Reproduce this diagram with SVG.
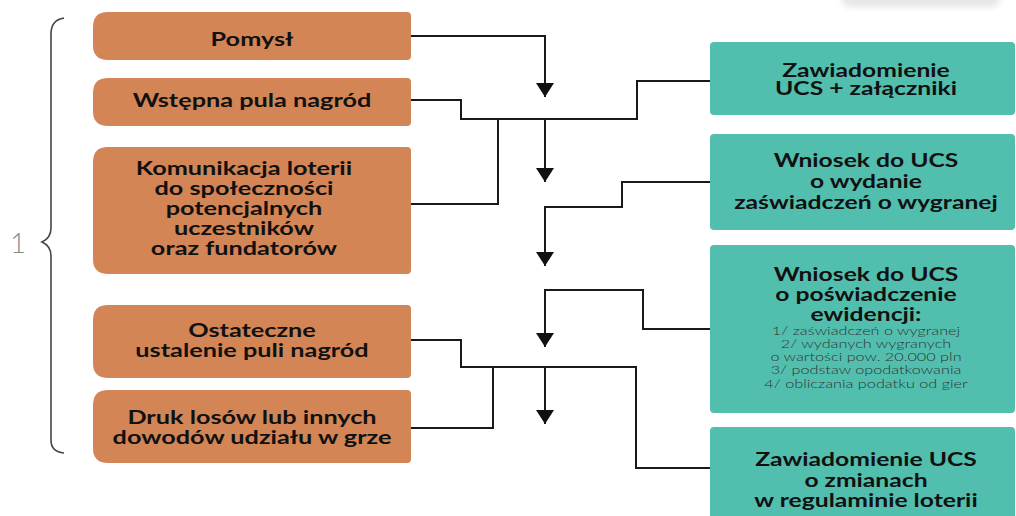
<svg xmlns="http://www.w3.org/2000/svg" width="1016" height="516" viewBox="0 0 1016 516">
<defs>
<style>
.o{fill:#D38556}
.t{fill:#52BFAE}
.h{font-family:Lato,"Open Sans","Liberation Sans",sans-serif;font-weight:700;font-size:19px;fill:#111;text-anchor:middle}
.s{font-family:Lato,"Open Sans","Liberation Sans",sans-serif;font-weight:300;font-size:12.5px;fill:#333;text-anchor:middle}
.c{fill:none;stroke:#1a1a1a;stroke-width:2}
</style>
<marker id="ar" viewBox="0 0 14 18" refX="14" refY="9" markerWidth="14" markerHeight="18" markerUnits="userSpaceOnUse" orient="auto">
<path d="M0,0 L14,9 L0,18 Z" fill="#111"/>
</marker>
<filter id="blur" x="-20%" y="-100%" width="140%" height="300%">
<feGaussianBlur stdDeviation="3"/>
</filter>
</defs>
<rect width="1016" height="516" fill="#fff"/>
<rect x="842" y="-12" width="158" height="19" rx="8" fill="#e6e6e6" filter="url(#blur)"/>
<g id="brace">
<path d="M64,18 Q51,20 51,34 L51,228 Q51,238 42,242 Q51,246 51,256 L51,440 Q51,452 64,453" fill="none" stroke="#444" stroke-width="1.6"/>
<text x="18" y="253" font-family="Lato,'Open Sans','Liberation Sans',sans-serif" font-weight="300" font-size="27" fill="#888" text-anchor="middle">1</text>
</g>
<g id="connectors">
<path class="c" d="M411,36 H545 V97" marker-end="url(#ar)"/>
<path class="c" d="M411,100 H461 V119 H637 V81 H711"/>
<path class="c" d="M498,119 V204 H411"/>
<path class="c" d="M545,119 V182" marker-end="url(#ar)"/>
<path class="c" d="M711,182 H622 V207 H545 V266" marker-end="url(#ar)"/>
<path class="c" d="M711,329 H643 V290 H545 V347" marker-end="url(#ar)"/>
<path class="c" d="M411,340 H461 V367 H636 V468 H711"/>
<path class="c" d="M411,428 H493 V367"/>
<path class="c" d="M545,367 V424" marker-end="url(#ar)"/>
</g>
<g id="n1">
<path class="o" d="M108,12 H407 Q411,12 411,16 V56 Q411,60 407,60 H108 Q93,60 93,45 V27 Q93,12 108,12 Z"/>
<g transform="translate(252 0) scale(1.33 1)"><text class="h" x="0" y="46">Pomysł</text></g>
</g>
<g id="n2">
<path class="o" d="M108,78 H407 Q411,78 411,82 V122 Q411,126 407,126 H108 Q93,126 93,111 V93 Q93,78 108,78 Z"/>
<g transform="translate(252 0) scale(1.33 1)"><text class="h" x="0" y="107">Wstępna pula nagród</text></g>
</g>
<g id="n3">
<path class="o" d="M108,147 H407 Q411,147 411,151 V270 Q411,274 407,274 H108 Q93,274 93,259 V162 Q93,147 108,147 Z"/>
<g transform="translate(244 0) scale(1.33 1)">
<text class="h" x="0" y="175">Komunikacja loterii</text>
<text class="h" x="0" y="195">do społeczności</text>
<text class="h" x="0" y="215">potencjalnych</text>
<text class="h" x="0" y="235">uczestników</text>
<text class="h" x="0" y="255">oraz fundatorów</text>
</g>
</g>
<g id="n4">
<path class="o" d="M108,305 H407 Q411,305 411,309 V374 Q411,378 407,378 H108 Q93,378 93,363 V320 Q93,305 108,305 Z"/>
<g transform="translate(252 0) scale(1.33 1)">
<text class="h" x="0" y="337">Ostateczne</text>
<text class="h" x="0" y="357">ustalenie puli nagród</text>
</g>
</g>
<g id="n5">
<path class="o" d="M108,390 H407 Q411,390 411,394 V459 Q411,463 407,463 H108 Q93,463 93,448 V405 Q93,390 108,390 Z"/>
<g transform="translate(252 0) scale(1.33 1)">
<text class="h" x="0" y="424">Druk losów lub innych</text>
<text class="h" x="0" y="444">dowodów udziału w grze</text>
</g>
</g>
<g id="t1">
<rect class="t" x="710" y="42" width="305" height="73" rx="4"/>
<g transform="translate(866 0) scale(1.3 1)">
<text class="h" x="0" y="77">Zawiadomienie</text>
<text class="h" x="0" y="95">UCS + załączniki</text>
</g>
</g>
<g id="t2">
<rect class="t" x="710" y="134" width="305" height="96" rx="4"/>
<g transform="translate(866 0) scale(1.3 1)">
<text class="h" x="0" y="167">Wniosek do UCS</text>
<text class="h" x="0" y="188">o wydanie</text>
<text class="h" x="0" y="209">zaświadczeń o wygranej</text>
</g>
</g>
<g id="t3">
<rect class="t" x="710" y="245" width="305" height="168" rx="4"/>
<g transform="translate(866 0) scale(1.3 1)">
<text class="h" x="0" y="281">Wniosek do UCS</text>
<text class="h" x="0" y="301">o poświadczenie</text>
<text class="h" x="0" y="321">ewidencji:</text>
<text class="s" x="0" y="335">1/ zaświadczeń o wygranej</text>
<text class="s" x="0" y="348">2/ wydanych wygranych</text>
<text class="s" x="0" y="361">o wartości pow. 20.000 pln</text>
<text class="s" x="0" y="374">3/ podstaw opodatkowania</text>
<text class="s" x="0" y="388">4/ obliczania podatku od gier</text>
</g>
</g>
<g id="t4">
<rect class="t" x="710" y="427" width="305" height="100" rx="4"/>
<g transform="translate(866 0) scale(1.3 1)">
<text class="h" x="0" y="466">Zawiadomienie UCS</text>
<text class="h" x="0" y="487">o zmianach</text>
<text class="h" x="0" y="507">w regulaminie loterii</text>
</g>
</g>
</svg>
